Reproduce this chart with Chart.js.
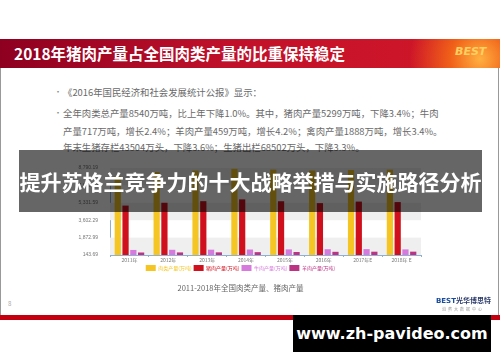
<!DOCTYPE html>
<html>
<head>
<meta charset="utf-8">
<script src="https://cdn.jsdelivr.net/npm/chart.js@4/dist/chart.umd.min.js"></script>
<style>
  html, body { margin: 0; padding: 0; background: #fff; }
  body { width: 500px; height: 362px; position: relative; overflow: hidden;
         font-family: "Noto Sans CJK SC", "Noto Sans", sans-serif; }
  .abs { position: absolute; white-space: nowrap; }
  #slide { left: 0; top: 39px; width: 497px; height: 281px; border-left: 1px solid #999; border-right: 1px solid #999; }
  #titlebar { left: 0; top: 39px; width: 500px; height: 29px;
    background: radial-gradient(circle at 480px 20px, #ffb040 0, #f06018 30px, rgba(220,20,30,0) 70px),
                linear-gradient(90deg, #8e0020 0%, #c0102a 45%, #d41828 100%); }
  #title { left: 14px; top: 44px; color: #fff; font-weight: bold; font-size: 15.5px; line-height: 18px; }
  #logo { left: 455px; top: 45px; color: #ffd060; font-weight: bold; font-style: italic; font-size: 11px; font-family: "DejaVu Sans", sans-serif; }
  .txt { color: #6a6a6a; font-size: 9.4px; line-height: 12px; }
  .dot { color: #888; font-size: 8px; }
  #chartbox { left: 60px; top: 159px; width: 380px; height: 145px; }
  #redline { left: 0; top: 315px; width: 500px; height: 5px; background: #c40010; }
  #banner { left: 19px; top: 150px; width: 463px; height: 62px; background: rgba(0,0,0,0.6);
    color: #fff; font-weight: bold; font-size: 21px; line-height: 62px; text-align: center; }
  #wm { left: 293px; top: 315px; width: 198px; height: 37px; background: #000; color: #fff;
    font-family: "DejaVu Sans", sans-serif; font-weight: bold; font-size: 16px; line-height: 37px; text-align: center; }
</style>
</head>
<body>
<div id="slide" class="abs"></div>
<div id="titlebar" class="abs"></div>
<div id="title" class="abs">2018年猪肉产量占全国肉类产量的比重保持稳定</div>
<div id="logo" class="abs">BEST</div>

<div class="abs dot" style="left:54px;top:86px;">•</div>
<div class="abs txt" style="left:63px;top:86px;">《2016年国民经济和社会发展统计公报》显示：</div>
<div class="abs dot" style="left:54px;top:107px;">•</div>
<div class="abs txt" style="left:63px;top:107px;">全年肉类总产量8540万吨，比上年下降1.0%。其中，猪肉产量5299万吨，下降3.4%；牛肉</div>
<div class="abs txt" style="left:63px;top:125px;">产量717万吨，增长2.4%；羊肉产量459万吨，增长4.2%；禽肉产量1888万吨，增长3.4%。</div>
<div class="abs txt" style="left:63px;top:141px;">年末生猪存栏43504万头，下降3.6%；生猪出栏68502万头，下降3.3%。</div>

<div id="chartbox" class="abs"><canvas id="chart" width="380" height="145"></canvas></div>

<div class="abs" style="left:8px;top:299px;color:#aaa;font-size:6px;">8</div>
<div class="abs" style="left:436px;top:295px;font-size:7px;font-weight:bold;">
  <span style="color:#1a4c9c;font-family:'DejaVu Sans';">BEST</span><span style="color:#2a3a6a;">光华博思特</span></div>
<div class="abs" style="left:442px;top:306px;font-size:4px;color:#999;letter-spacing:2px;">消费大数据中心</div>

<div id="redline" class="abs"></div>
<div id="banner" class="abs">提升苏格兰竞争力的十大战略举措与实施路径分析</div>
<div id="wm" class="abs">www.zh-pavideo.com</div>

<script>
const years = ["2011年", "2012年", "2013年", "2014年", "2015年", "2016年", "2017年E", "2018年 E"];
const meatTotal = [7965, 8387, 8535, 8707, 8625, 8540, 8588, 8624];
const pork = [5053, 5335, 5493, 5671, 5487, 5299, 5452, 5404];
const beef = [648, 662, 673, 689, 700, 717, 726, 700];
const mutton = [393, 401, 408, 428, 441, 459, 471, 475];
const seriesNames = ["肉类产量(万吨)", "猪肉产量(万吨)", "牛肉产量(万吨)", "羊肉产量(万吨)"];
const seriesColors = ["#f5c623", "#d0101c", "#d67ade", "#bd3384"];
const yMin = 143.69;
const yMax = 8790.19;
const yStep = 1729.3;

// alternating grey / white bands between y ticks
const bandPlugin = {
  id: "bands",
  beforeDatasetsDraw(chart) {
    const { ctx, chartArea, scales } = chart;
    const ticks = scales.y.ticks;
    ctx.save();
    for (let i = 0; i < ticks.length - 1; i++) {
      if (i % 2 !== 0) continue;
      const y1 = scales.y.getPixelForValue(ticks[i].value);
      const y2 = scales.y.getPixelForValue(ticks[i + 1].value);
      ctx.fillStyle = "#efefef";
      ctx.fillRect(chartArea.left, y2, chartArea.right - chartArea.left, y1 - y2);
    }
    ctx.restore();
  }
};

const fmt = (v) => v.toFixed(2).replace(/\B(?=(\d{3})+(?!\d))/g, ",");

new Chart(document.getElementById("chart"), {
  type: "bar",
  data: {
    labels: years,
    datasets: [meatTotal, pork, beef, mutton].map((d, i) => ({
      label: seriesNames[i],
      data: d,
      backgroundColor: seriesColors[i],
      base: yMin,
      categoryPercentage: 0.8,
      barPercentage: 0.8
    }))
  },
  options: {
    responsive: false,
    animation: false,
    devicePixelRatio: 1,
    layout: { padding: { top: 9, right: 19, left: 0, bottom: 0 } },
    scales: {
      x: {
        grid: { display: true, drawOnChartArea: false, color: "#8fb0d0", tickLength: 2 },
        border: { color: "#8fb0d0" },
        ticks: { color: "#777", font: { size: 5, family: "Noto Sans CJK SC" }, padding: 0, maxRotation: 0 }
      },
      y: {
        min: yMin,
        max: yMax,
        afterBuildTicks(scale) {
          const t = [];
          for (let k = 0; k <= 5; k++) t.push({ value: yMin + yStep * k });
          scale.ticks = t;
        },
        afterFit(scale) { scale.width = 50; },
        grid: { display: false },
        border: { color: "#8fb0d0" },
        ticks: { color: "#777", font: { size: 5 }, padding: 4, callback: (v) => fmt(v) }
      }
    },
    plugins: {
      legend: {
        position: "bottom",
        labels: {
          boxWidth: 10, boxHeight: 6, padding: 2,
          font: { size: 5, family: "Noto Sans CJK SC" },
          generateLabels(chart) {
            return chart.data.datasets.map((ds, i) => ({
              text: ds.label, fillStyle: ds.backgroundColor, strokeStyle: ds.backgroundColor,
              lineWidth: 0, fontColor: ds.backgroundColor, datasetIndex: i, hidden: false
            }));
          }
        }
      },
      title: {
        display: true, position: "bottom", text: "2011-2018年全国肉类产量、猪肉产量",
        color: "#666", font: { size: 7.5, weight: "normal", family: "Noto Sans CJK SC" },
        padding: { top: 3, bottom: 11 }
      },
      tooltip: { enabled: false }
    }
  },
  plugins: [bandPlugin]
});
</script>
</body>
</html>
